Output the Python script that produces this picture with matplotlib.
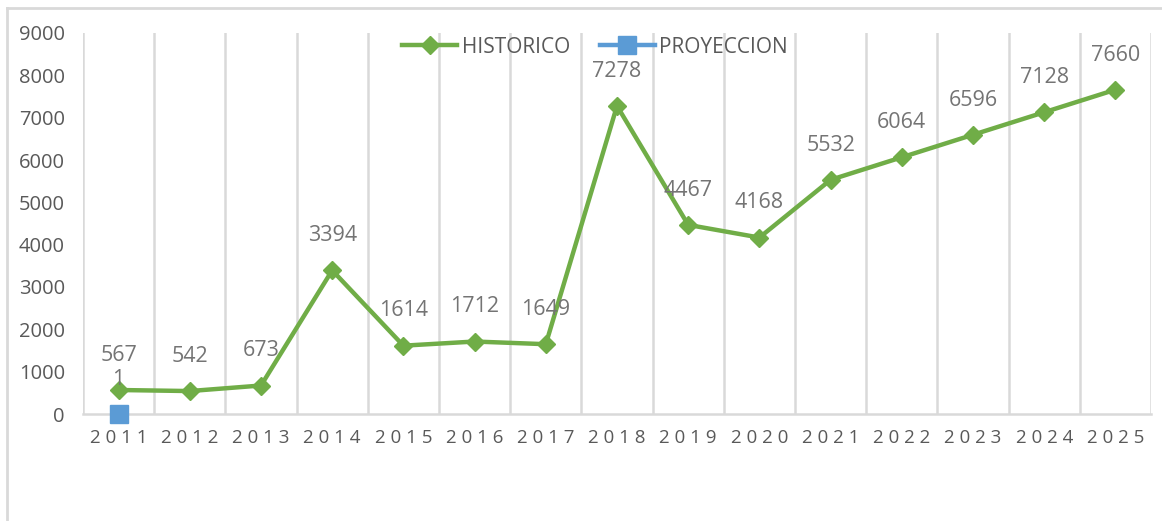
import matplotlib
matplotlib.use("Agg")
import matplotlib.pyplot as plt
from matplotlib.lines import Line2D

years = ["2011", "2012", "2013", "2014", "2015", "2016", "2017", "2018",
         "2019", "2020", "2021", "2022", "2023", "2024", "2025"]
historico = [567, 542, 673, 3394, 1614, 1712, 1649, 7278, 4467, 4168,
             5532, 6064, 6596, 7128, 7660]
proyeccion_years = ["2011"]
proyeccion = [1]
yticks = [0, 1000, 2000, 3000, 4000, 5000, 6000, 7000, 8000, 9000]

GREEN = "#70AD47"
BLUE = "#5B9BD5"
TXT = "#595959"
LBL = "#747474"
GRID = "#D9D9D9"

plt.rcParams["font.family"] = ["Open Sans", "DejaVu Sans"]

fig = plt.figure(figsize=(11.62, 5.21), dpi=100)
W, H = 1162, 521
ax = fig.add_axes([83 / W, 1 - 414 / H, (1151 - 83) / W, (414 - 33) / H])

x = list(range(len(years)))
ax.set_xlim(-0.5, len(years) - 0.5)
ax.set_ylim(0, 9000)

# vertical gridlines between categories
for b in range(len(years) + 1):
    ax.axvline(b - 0.5, color=GRID, lw=1.8, zorder=0)

ax.plot(x, historico, color=GREEN, lw=3.2, marker="D", markersize=9,
        label="HISTORICO", zorder=3, clip_on=False)
px = [years.index(y) for y in proyeccion_years]
ax.plot(px, proyeccion, color=BLUE, lw=3.2, marker="s", markersize=13,
        label="PROYECCION", zorder=4, clip_on=False)

for xi, v in zip(x, historico):
    ax.annotate(str(v), (xi, v), xytext=(0, 25), textcoords="offset points",
                ha="center", va="center", fontsize=15.5, color=LBL)
for xi, v in zip(px, proyeccion):
    ax.annotate(str(v), (xi, v), xytext=(0, 25), textcoords="offset points",
                ha="center", va="center", fontsize=15.5, color=LBL)

ax.set_yticks(yticks)
ax.set_yticklabels([str(t) for t in yticks], fontsize=14.5, color=TXT)
ax.set_xticks(x)
ax.set_xticklabels([" ".join(y) for y in years], fontsize=13.5, color=TXT)
ax.tick_params(axis="both", length=0)
ax.tick_params(axis="y", pad=13)
ax.tick_params(axis="x", pad=11)

for s in ["top", "right", "left"]:
    ax.spines[s].set_visible(False)
ax.spines["bottom"].set_color(GRID)
ax.spines["bottom"].set_linewidth(1.8)
ax.spines["bottom"].set_zorder(1)

leg = fig.legend(loc="center", bbox_to_anchor=(595 / W, 1 - 47 / H), ncol=2,
                 frameon=False, fontsize=15, handlelength=2.64,
                 columnspacing=1.44, handletextpad=0.2)
for t in leg.get_texts():
    t.set_color(TXT)

# chart border (top and left visible)
fig.add_artist(Line2D([7 / W, 1], [1 - 8 / H, 1 - 8 / H], color=GRID, lw=2,
                      transform=fig.transFigure))
fig.add_artist(Line2D([7 / W, 7 / W], [0, 1 - 8 / H], color=GRID, lw=2,
                      transform=fig.transFigure))

fig.savefig("out.png", dpi=100)
